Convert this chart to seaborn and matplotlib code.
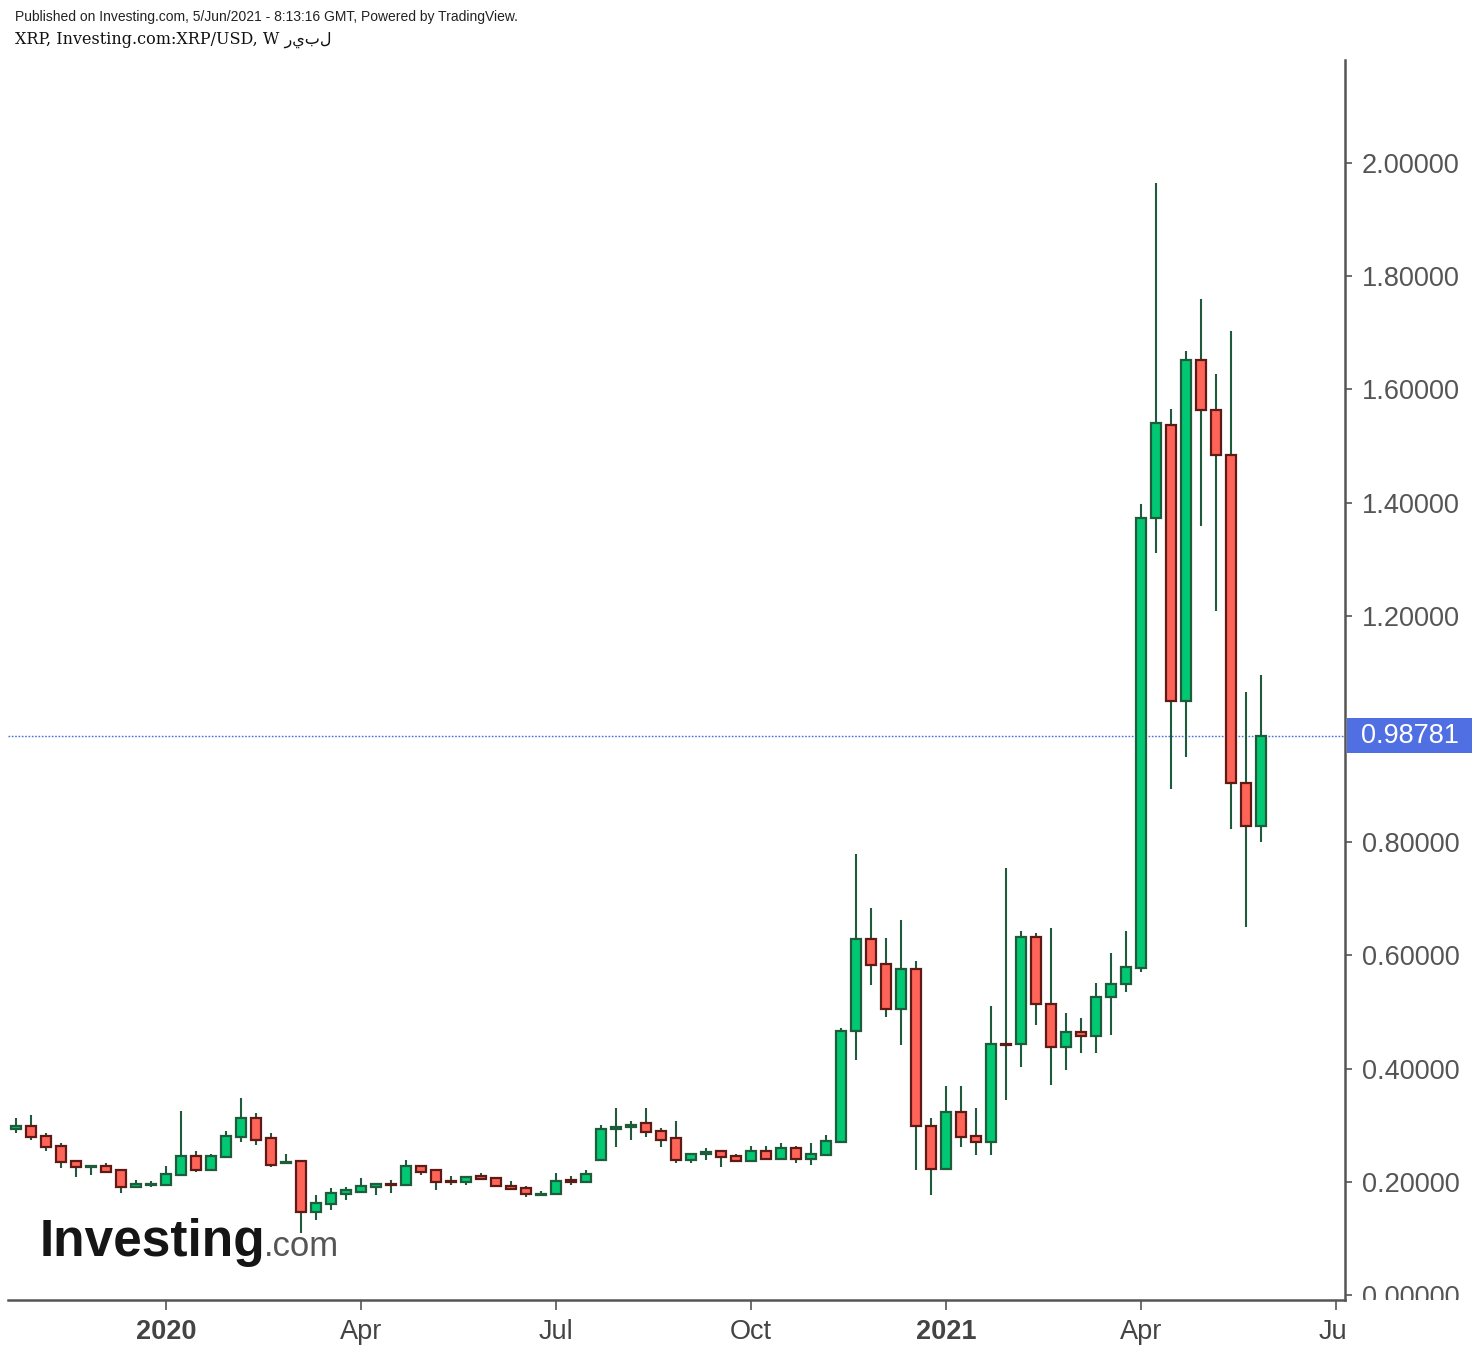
import numpy as np
import pandas as pd
import seaborn as sns
import matplotlib
matplotlib.use("Agg")
import matplotlib.pyplot as plt
from matplotlib.patches import Rectangle
from matplotlib.transforms import Bbox, TransformedBbox, blended_transform_factory

# ---------------- data (weekly XRP/USD candles) ----------------
week_start = pd.date_range("2019-10-28", periods=84, freq="7D")

open_ = [0.293, 0.299, 0.281, 0.264, 0.237, 0.227, 0.228, 0.220, 0.191, 0.194,
         0.194, 0.212, 0.246, 0.221, 0.243, 0.279, 0.312, 0.277, 0.233, 0.237,
         0.146, 0.161, 0.178, 0.182, 0.191, 0.197, 0.194, 0.228, 0.220, 0.202,
         0.200, 0.210, 0.206, 0.193, 0.189, 0.177, 0.178, 0.203, 0.200, 0.239,
         0.294, 0.297, 0.304, 0.290, 0.277, 0.239, 0.250, 0.255, 0.246, 0.236,
         0.255, 0.240, 0.259, 0.240, 0.247, 0.270, 0.466, 0.629, 0.585, 0.505,
         0.576, 0.299, 0.222, 0.324, 0.281, 0.271, 0.444, 0.443, 0.633, 0.514,
         0.438, 0.465, 0.457, 0.527, 0.549, 0.578, 1.373, 1.538, 1.050, 1.652,
         1.564, 1.484, 0.904, 0.828]
high = [0.312, 0.318, 0.287, 0.269, 0.238, 0.229, 0.233, 0.221, 0.203, 0.201,
        0.228, 0.326, 0.255, 0.250, 0.290, 0.348, 0.321, 0.286, 0.250, 0.237,
        0.176, 0.189, 0.191, 0.206, 0.197, 0.203, 0.239, 0.228, 0.220, 0.210,
        0.210, 0.215, 0.206, 0.202, 0.193, 0.184, 0.215, 0.210, 0.220, 0.300,
        0.330, 0.308, 0.330, 0.295, 0.308, 0.250, 0.259, 0.255, 0.250, 0.264,
        0.264, 0.268, 0.264, 0.268, 0.282, 0.471, 0.780, 0.683, 0.631, 0.662,
        0.591, 0.312, 0.370, 0.370, 0.330, 0.511, 0.754, 0.644, 0.640, 0.648,
        0.498, 0.489, 0.551, 0.604, 0.644, 1.397, 1.964, 1.565, 1.667, 1.760,
        1.627, 1.703, 1.065, 1.095]
low = [0.287, 0.274, 0.255, 0.225, 0.208, 0.212, 0.216, 0.181, 0.191, 0.191,
       0.194, 0.212, 0.217, 0.221, 0.243, 0.270, 0.265, 0.226, 0.233, 0.110,
       0.133, 0.150, 0.168, 0.181, 0.177, 0.181, 0.194, 0.212, 0.186, 0.194,
       0.194, 0.204, 0.191, 0.186, 0.173, 0.177, 0.178, 0.194, 0.200, 0.239,
       0.261, 0.274, 0.279, 0.261, 0.234, 0.234, 0.239, 0.226, 0.235, 0.235,
       0.239, 0.239, 0.234, 0.230, 0.247, 0.270, 0.415, 0.548, 0.491, 0.442,
       0.221, 0.177, 0.222, 0.261, 0.247, 0.247, 0.345, 0.402, 0.477, 0.371,
       0.398, 0.428, 0.428, 0.459, 0.535, 0.571, 1.311, 0.894, 0.951, 1.359,
       1.209, 0.823, 0.651, 0.801]
close = [0.298, 0.279, 0.261, 0.235, 0.226, 0.228, 0.217, 0.191, 0.196, 0.196,
         0.214, 0.246, 0.221, 0.246, 0.281, 0.312, 0.274, 0.230, 0.235, 0.146,
         0.162, 0.180, 0.185, 0.192, 0.196, 0.195, 0.228, 0.217, 0.200, 0.200,
         0.209, 0.205, 0.192, 0.187, 0.178, 0.179, 0.202, 0.200, 0.213, 0.294,
         0.297, 0.301, 0.288, 0.274, 0.239, 0.250, 0.253, 0.244, 0.236, 0.255,
         0.240, 0.259, 0.240, 0.250, 0.273, 0.466, 0.629, 0.583, 0.505, 0.576,
         0.298, 0.222, 0.324, 0.280, 0.271, 0.443, 0.442, 0.633, 0.514, 0.438,
         0.465, 0.457, 0.527, 0.549, 0.580, 1.373, 1.541, 1.050, 1.652, 1.563,
         1.484, 0.904, 0.828, 0.98781]

# 1.00000 is hidden behind the last-price label in the reference
y_ticks = [0.0, 0.2, 0.4, 0.6, 0.8, 1.2, 1.4, 1.6, 1.8, 2.0]
x_tick_dates = ["2020-01-06", "2020-04-06", "2020-07-06", "2020-10-05",
                "2021-01-04", "2021-04-05", "2021-07-05"]
x_tick_labels = ["2020", "Apr", "Jul", "Oct", "2021", "Apr", "Jul"]
x_tick_bold = [True, False, False, False, True, False, False]

# ---------------- styling ----------------
sns.set_theme(style="white")
plt.rcParams["font.family"] = ["Liberation Sans", "DejaVu Sans"]

UP_FILL, UP_EDGE = "#00c873", "#1f5c3b"
DN_FILL, DN_EDGE = "#ff6459", "#5e1a14"
WICK = "#1f5a3c"
AX_COL = "#555555"

df = pd.DataFrame({"date": week_start, "open": open_, "high": high,
                   "low": low, "close": close})
t0 = df["date"].iloc[0]
df["x"] = (df["date"] - t0).dt.days / 7.0
df["up"] = df["close"] >= df["open"]
df["bottom"] = df[["open", "close"]].min(axis=1)
df["height"] = (df["close"] - df["open"]).abs()

W, H = 1479, 1352
fig = plt.figure(figsize=(W / 100, H / 100), dpi=100)
ax_l, ax_r, ax_b, ax_t = 8, 1345, 1300, 60
ax = fig.add_axes([ax_l / W, 1 - ax_b / H, (ax_r - ax_l) / W, (ax_b - ax_t) / H])
ax.set_facecolor("white")

# wicks
ax.vlines(df["x"], df["low"], df["high"], color=WICK, linewidth=1.5, zorder=2)
# bodies
for is_up, fill, edge in [(True, UP_FILL, UP_EDGE), (False, DN_FILL, DN_EDGE)]:
    d = df[df["up"] == is_up]
    ax.bar(d["x"], d["height"], bottom=d["bottom"], width=0.72, color=fill,
           edgecolor=edge, linewidth=1.6, zorder=3)

ax.set_xlim(-0.533, 88.6)
ax.set_ylim(-0.0088, 2.182)

# last price line and label
last = close[-1]
ax.axhline(last, color="#4a6ee0", linewidth=1.0, linestyle=(0, (1.2, 1.2)), zorder=1)
bt = blended_transform_factory(ax.transAxes, ax.transData)
ax.add_patch(Rectangle((1.0015, last - 0.031), 0.0935, 0.062, transform=bt,
                       facecolor="#4f6fe2", edgecolor="none", clip_on=False, zorder=5))
ax.text(1.0015 + 0.0935 / 2, last, f"{last:.5f}", transform=bt, ha="center",
        va="center", color="white", fontsize=19.5, clip_on=False, zorder=6)

# axes spines
for s in ["top", "left"]:
    ax.spines[s].set_visible(False)
for s in ["bottom", "right"]:
    ax.spines[s].set_color(AX_COL)
    ax.spines[s].set_linewidth(1.8)

# y axis on the right
ax.yaxis.tick_right()
ax.set_yticks(y_ticks)
ax.set_yticklabels([f"{v:.5f}" for v in y_ticks])
ax.tick_params(axis="y", which="major", right=True, left=False, length=5,
               width=1.2, color=AX_COL, labelsize=19.5, labelcolor=AX_COL, pad=7)

# x axis
xt = [(pd.Timestamp(d) - t0).days / 7.0 for d in x_tick_dates]
ax.set_xticks(xt)
ax.set_xticklabels(x_tick_labels)
ax.tick_params(axis="x", which="major", bottom=True, length=7, width=1.2,
               color=AX_COL, labelsize=19.5, labelcolor="#444444", pad=7)
for lab, b in zip(ax.get_xticklabels(), x_tick_bold):
    if b:
        lab.set_fontweight("bold")
ax.grid(False)

# clip tick labels to the pane, as in the reference
clip_y = TransformedBbox(Bbox([[0, 1 - ax_b / H], [1, 1]]), fig.transFigure)
for t in ax.yaxis.get_major_ticks():
    for lab in (t.label1, t.label2):
        lab.set_clip_box(clip_y)
        lab.set_clip_on(True)
clip_x = TransformedBbox(Bbox([[0, 0], [ax_r / W, 1]]), fig.transFigure)
for t in ax.xaxis.get_major_ticks():
    t.label1.set_clip_box(clip_x)
    t.label1.set_clip_on(True)

# header texts
fig.text(15 / W, 1 - 17 / H,
         "Published on Investing.com, 5/Jun/2021 - 8:13:16 GMT, Powered by TradingView.",
         fontsize=10, color="#222222", va="center", ha="left")
fig.text(15 / W, 1 - 40 / H, "XRP, Investing.com:XRP/USD, W ريبل",
         family=["DejaVu Serif", "DejaVu Sans"], fontsize=11.5, color="#111111",
         va="center", ha="left")

# watermark logo
fig.text(40 / W, 1 - 1256 / H, "Investing", fontsize=37, fontweight="bold",
         color="#151515", va="baseline", ha="left")
fig.text(264 / W, 1 - 1256 / H, ".com", fontsize=25, color="#555555",
         va="baseline", ha="left")

fig.savefig("out.png", dpi=100, facecolor="white")
